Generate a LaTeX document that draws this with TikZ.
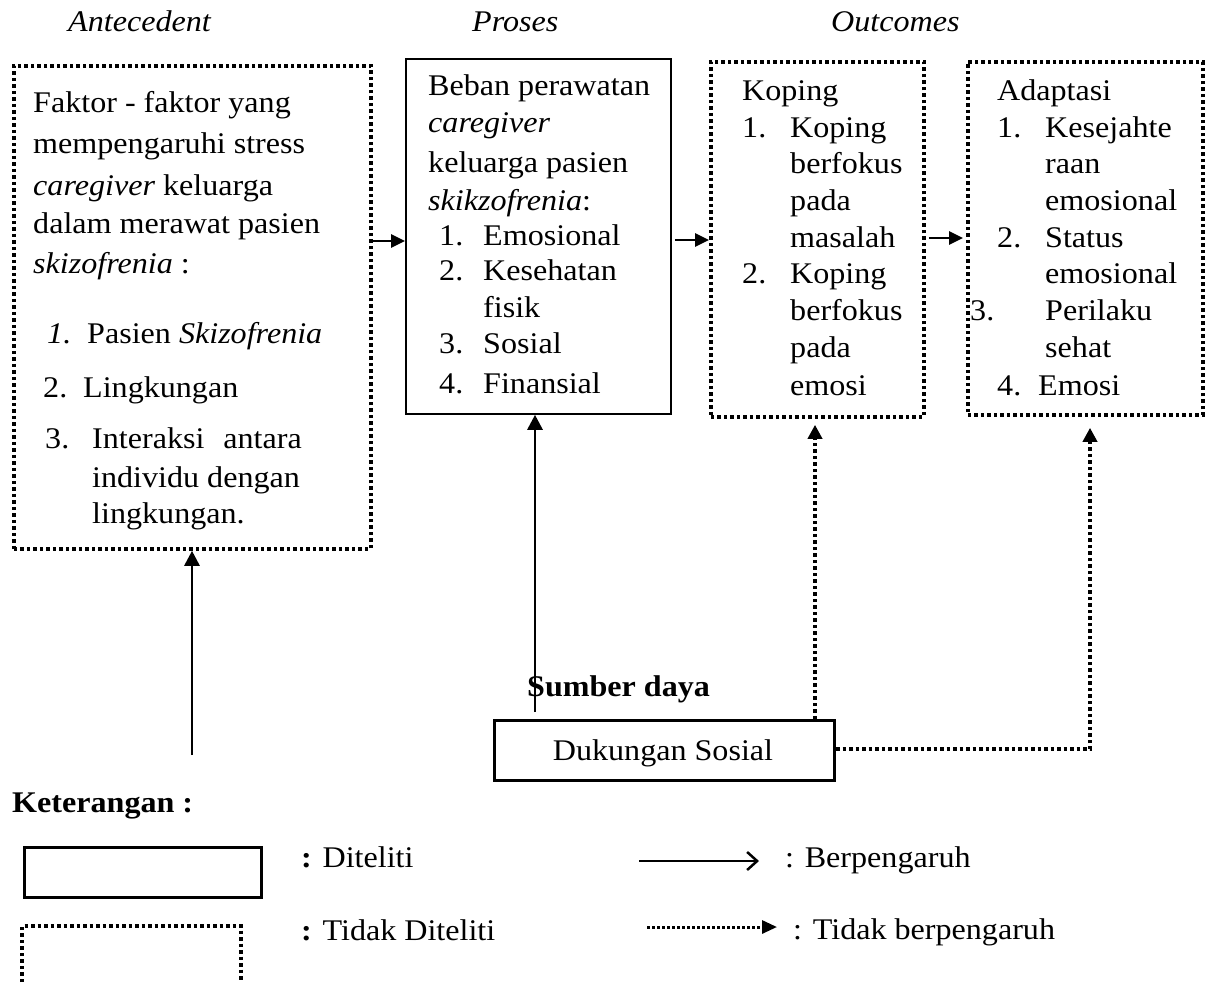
\documentclass[tikz,border=0pt]{standalone}
\usepackage{fontspec}
\setmainfont[FakeStretch=1.07]{Liberation Serif}
\usetikzlibrary{arrows.meta}
\begin{document}
\begin{tikzpicture}[x=1pt,y=-1pt,
  tx/.style={anchor=base west, inner sep=0pt, font=\fontsize{30}{36}\selectfont},
  txe/.style={anchor=base east, inner sep=0pt, font=\fontsize{30}{36}\selectfont},
  dotline/.style={line width=3.8pt, dash pattern=on 3.5pt off 3pt},
  dotbox/.style={draw, dotline, anchor=north west, inner sep=0pt},
  solbox/.style={draw, line width=1.8pt, anchor=north west, inner sep=0pt},
  arr/.style={line width=2.6pt, -{Triangle[length=14pt,width=13pt]}},
  uarr/.style={line width=2.8pt, -{Triangle[length=15pt,width=15pt]}},
  darr/.style={dotline, -{Triangle[length=14pt,width=14pt]}},
]
\useasboundingbox (0,0) rectangle (1206,982);

% headings
\node[tx] (h1) at (68,32) {\itshape Antecedent};
\node[tx] (h2) at (472,32) {\itshape Proses};
\node[tx] (h3) at (831,32) {\itshape Outcomes};

% boxes
\node[dotbox, minimum width=357pt, minimum height=483pt] (lbox) at (12,64) {};
\node[solbox, minimum width=265pt, minimum height=355pt] (beban) at (405,58) {};
\node[dotbox, minimum width=213pt, minimum height=355pt] (kop) at (709,60) {};
\node[dotbox, minimum width=235pt, minimum height=353pt] (adap) at (966,60) {};
\node[solbox, line width=3pt, minimum width=340pt, minimum height=60pt] (duk) at (493,719) {};

% left box text
\node[tx] (a1) at (33,112) {Faktor - faktor yang};
\node[tx] (a2) at (33,153) {mempengaruhi stress};
\node[tx] (a3) at (33,195) {\textit{caregiver} keluarga};
\node[tx] (a4) at (33,233) {dalam merawat pasien};
\node[tx] (a5) at (33,273) {\textit{skizofrenia} :};
\node[tx] (a6n) at (47,343) {\textit{1.}};
\node[tx] (a6) at (87,343) {Pasien \textit{Skizofrenia}};
\node[tx] (a7n) at (43,397) {2.};
\node[tx] (a7) at (83,397) {Lingkungan};
\node[tx] (a8n) at (45,448) {3.};
\node[tx] (a8) at (92,448) {Interaksi};
\node[txe] (a8b) at (302,448) {antara};
\node[tx] (a9) at (92,487) {individu dengan};
\node[tx] (a10) at (92,523) {lingkungan.};

% beban text
\node[tx] (b1) at (428,95) {Beban perawatan};
\node[tx] (b2) at (428,132) {\textit{caregiver}};
\node[tx] (b3) at (428,172) {keluarga pasien};
\node[tx] (b4) at (428,210) {\textit{skikzofrenia}:};
\node[tx] (b5n) at (439,245) {1.};
\node[tx] (b5) at (483,245) {Emosional};
\node[tx] (b6n) at (439,280) {2.};
\node[tx] (b6) at (483,280) {Kesehatan};
\node[tx] (b7) at (483,317) {fisik};
\node[tx] (b8n) at (439,353) {3.};
\node[tx] (b8) at (483,353) {Sosial};
\node[tx] (b9n) at (439,393) {4.};
\node[tx] (b9) at (483,393) {Finansial};

% koping text
\node[tx] (k0) at (742,100) {Koping};
\node[tx] (k1n) at (742,137) {1.};
\node[tx] (k1) at (790,137) {Koping};
\node[tx] (k2) at (790,173) {berfokus};
\node[tx] (k3) at (790,210) {pada};
\node[tx] (k4) at (790,247) {masalah};
\node[tx] (k5n) at (742,283) {2.};
\node[tx] (k5) at (790,283) {Koping};
\node[tx] (k6) at (790,320) {berfokus};
\node[tx] (k7) at (790,357) {pada};
\node[tx] (k8) at (790,395) {emosi};

% adaptasi text
\node[tx] (d0) at (997,100) {Adaptasi};
\node[tx] (d1n) at (997,137) {1.};
\node[tx] (d1) at (1045,137) {Kesejahte};
\node[tx] (d2) at (1045,173) {raan};
\node[tx] (d3) at (1045,210) {emosional};
\node[tx] (d4n) at (997,247) {2.};
\node[tx] (d4) at (1045,247) {Status};
\node[tx] (d5) at (1045,283) {emosional};
\node[tx] (d6n) at (970,320) {3.};
\node[tx] (d6) at (1045,320) {Perilaku};
\node[tx] (d7) at (1045,357) {sehat};
\node[tx] (d8n) at (997,395) {4.};
\node[tx] (d8) at (1038,395) {Emosi};

% sumber daya
\node[tx] (sd) at (527,696) {\bfseries Sumber daya};
\node[inner sep=0pt, anchor=base, font=\fontsize{30}{36}\selectfont] (dukt) at (663,760) {Dukungan Sosial};

% horizontal arrows
\coordinate (r1) at (0,241);
\coordinate (r2) at (0,240);
\coordinate (r3) at (0,238);
\draw[arr] (lbox.east |- r1) -- (beban.west |- r1);
\draw[arr] (beban.east |- r2) ++(3,0) -- (kop.west |- r2);
\draw[arr] (kop.east |- r3) ++(3,0) -- ([xshift=-3pt]adap.west |- r3);

% vertical arrows
\coordinate (u1) at (192,755);
\draw[uarr] (u1) -- (lbox.south -| u1);
\coordinate (u2) at (535,712);
\draw[uarr] (u2) -- (beban.south -| u2);
\coordinate (u3) at (815,0);
\draw[darr, shorten >=6pt] (duk.north -| u3) -- (kop.south -| u3);
\coordinate (u4) at (1090,749);
\draw[darr, shorten >=11pt] (duk.east |- u4) -- (u4) -- (adap.south -| u4);

% legend
\node[tx] (ket) at (12,812) {\bfseries Keterangan :};
\node[solbox, line width=3pt, minimum width=237pt, minimum height=50pt] (lg1) at (23,846) {};
\node[tx] (lg1t) at (301,867) {\textbf{:} Diteliti};
\draw[dotline] (22,982) -- (22,926) -- (241,926) -- (241,982);
\node[tx] (lg2t) at (301,940) {\textbf{:} Tidak Diteliti};
\coordinate (la1) at (639,861);
\coordinate (la2) at (759,861);
\draw[line width=2.8pt, -{Straight Barb[length=10pt,width=18pt,line width=2.5pt]}] (la1) -- (la2);
\node[tx] (lg3t) at (785,867) {: Berpengaruh};
\coordinate (lb1) at (647,927);
\coordinate (lb2) at (777,927);
\draw[line width=3pt, dash pattern=on 2.5pt off 2.5pt, -{Triangle[length=15pt,width=13pt]}] (lb1) -- (lb2);
\node[tx] (lg4t) at (793,939) {: Tidak berpengaruh};
\end{tikzpicture}
\end{document}
